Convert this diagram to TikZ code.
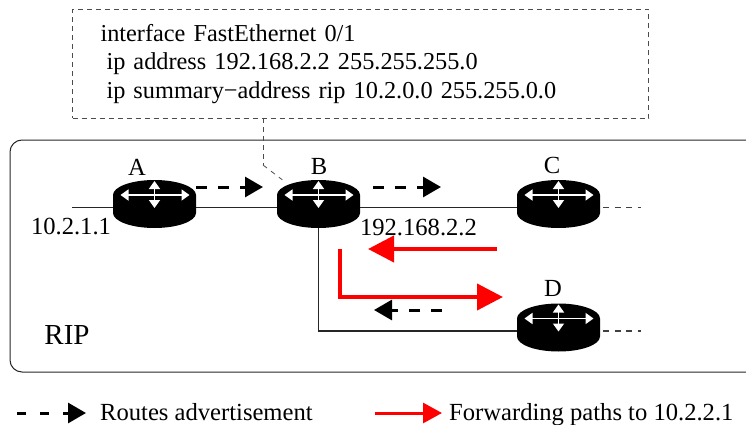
\documentclass[tikz,border=0pt]{standalone}
\usepackage{fontspec}
\setmainfont{Liberation Serif}
\usetikzlibrary{arrows.meta}
\tikzstyle{router} = [minimum width=83pt, minimum height=48pt, inner sep=0pt, path picture={
    \begin{scope}[shift={(path picture bounding box.center)}]
        \fill [black] (-41.5pt,9pt) arc [start angle=180, end angle=0, x radius=41.5pt, y radius=15pt]
            -- (41.5pt,-9pt) arc [start angle=0, end angle=-180, x radius=41.5pt, y radius=15pt] -- cycle;
        \draw [white, line width=1.5pt, {Triangle[length=8pt,width=11pt]}-{Triangle[length=8pt,width=11pt]}] (-34pt,9pt) -- (35pt,9pt);
        \draw [white, line width=1.5pt, {Triangle[length=8pt,width=11pt]}-{Triangle[length=8pt,width=11pt]}] (0pt,23pt) -- (0pt,-4pt);
    \end{scope}}]
\tikzstyle{tag} = [inner sep=0pt, font=\fontsize{24.6}{28}\selectfont]
\tikzstyle{wire} = [draw=black!85, line width=1.2pt]
\tikzstyle{stub} = [draw=black!75, line width=1.1pt, dash pattern=on 6pt off 5.5pt]
\tikzstyle{note} = [draw=black!70, line width=1pt, dash pattern=on 5pt off 4pt]
\tikzstyle{advert} = [draw, line width=3pt, dash pattern=on 11pt off 11pt, -{Triangle[length=18pt,width=20pt]}]
\tikzstyle{path} = [draw=red, line width=4pt, -{Triangle[length=26pt,width=26pt]}, red]
\begin{document}
\begin{tikzpicture}[x=1pt, y=-1pt]
    \useasboundingbox (0,0) rectangle (746,425);

    % We start by placing the routers
    \node [router] (A) at (154.5,204) {};
    \node [router, right of=A, node distance=164pt] (B) {};
    \node [router, right of=B, node distance=240pt] (C) {};
    \node [router, below of=C, node distance=123.5pt] (D) {};

    % Router names and addresses
    \node [tag] (nameA) at (137,167) {A};
    \node [tag] (nameB) at (319,166) {B};
    \node [tag] (nameC) at (552,165) {C};
    \node [tag] (nameD) at (553,288) {D};
    \node [tag] (addrA) at (71,226) {10.2.1.1};
    \node [tag] (addrB) at (418.5,227) {192.168.2.2};
    \node [tag, font=\fontsize{29}{32}\selectfont] (rip) at (67,335) {RIP};

    % The RIP area, open on the right
    \draw [draw=black!85, line width=1pt, rounded corners=12pt] (746,140) -- (10,140) -- (10,372) -- (746,372);

    % The configuration box
    \node [tag, note, anchor=north west, text width=520pt, inner xsep=28pt, inner ysep=0pt, minimum height=109pt, align=left,
        font=\fontsize{24.3}{28.5}\selectfont] (config) at (72,9)
        {interface FastEthernet 0/1\\
        \hspace*{6pt}ip address 192.168.2.2 255.255.255.0\\
        \hspace*{6pt}ip summary−address rip 10.2.0.0 255.255.0.0};
    \coordinate (configfoot) at (263,118);
    \coordinate (configbend) at (263,165);
    \draw [note] (configfoot) -- (configbend);
    \draw [draw=black!70, line width=.8pt, dash pattern=on 5pt off 5pt] (configbend) -- ([xshift=5.5pt]B.north west);

    % Once the nodes are placed, connecting them is easy.
    \coordinate (lanA) at (72,207.5);
    \coordinate (stubC) at (603,207.5);
    \coordinate (stubCend) at (641,207.5);
    \coordinate (stubD) at (603,331);
    \coordinate (stubDend) at (641,331);
    \draw [wire] (lanA) -- ([yshift=-3.5pt]A.west);
    \draw [wire] ([yshift=-3.5pt]A.east) -- ([yshift=-3.5pt]B.west);
    \draw [wire] ([yshift=-3.5pt]B.east) -- ([yshift=-3.5pt]C.west);
    \draw [wire] (B.south) |- ([yshift=-3.5pt]D.west);
    \draw [stub] (stubC) -- (stubCend);
    \draw [stub] (stubD) -- (stubDend);

    % Advertisements
    \coordinate (advABfrom) at (196,187);
    \coordinate (advABto) at (263,187);
    \coordinate (advBCfrom) at (373,187);
    \coordinate (advBCto) at (441,187);
    \coordinate (advDBfrom) at (442,310);
    \coordinate (advDBto) at (374,310);
    \draw [advert] (advABfrom) -- (advABto);
    \draw [advert] (advBCfrom) -- (advBCto);
    \draw [advert] (advDBfrom) -- (advDBto);

    % Forwarding paths
    \coordinate (pathCfrom) at (497,249);
    \coordinate (pathCto) at (368,249);
    \coordinate (pathDfrom) at (339.5,249);
    \coordinate (pathDto) at (503,297);
    \draw [path] (pathCfrom) -- (pathCto);
    \draw [path] (pathDfrom) |- (pathDto);

    % Legend
    \node [tag, anchor=base west] (routes) at (100,420) {Routes advertisement};
    \node [tag, anchor=base west] (forwarding) at (449,420) {Forwarding paths to 10.2.2.1};
    \coordinate (routesfrom) at (17,413);
    \coordinate (routesto) at (86,413);
    \coordinate (forwardfrom) at (375,413);
    \coordinate (forwardto) at (442,413);
    \draw [advert, dash pattern=on 9pt off 14pt] (routesfrom) -- (routesto);
    \draw [path, line width=3pt, -{Triangle[length=19pt,width=20pt]}] (forwardfrom) -- (forwardto);
\end{tikzpicture}
\end{document}
